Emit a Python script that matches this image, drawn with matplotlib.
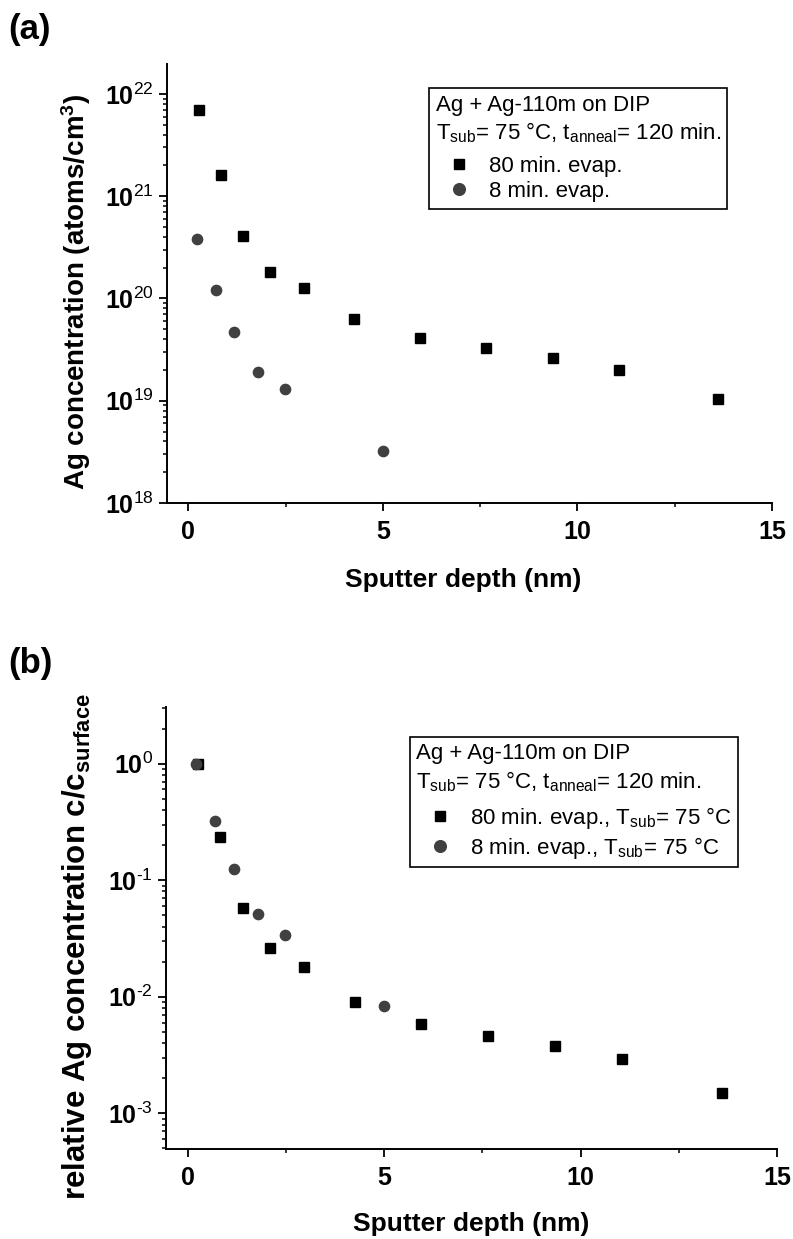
import numpy as np
import matplotlib
matplotlib.use("Agg")
import matplotlib.pyplot as plt
from matplotlib.ticker import MultipleLocator, LogLocator, NullFormatter, FuncFormatter
from matplotlib.lines import Line2D

plt.rcParams['font.family'] = ['Liberation Sans', 'DejaVu Sans']
plt.rcParams['mathtext.fontset'] = 'custom'
plt.rcParams['mathtext.rm'] = 'Liberation Sans'
plt.rcParams['mathtext.it'] = 'Liberation Sans:italic'
plt.rcParams['mathtext.bf'] = 'Liberation Sans:bold'
plt.rcParams['axes.unicode_minus'] = False

# depth of the data points (nm)
depth_80 = [0.27, 0.83, 1.41, 2.10, 2.96, 4.25, 5.94, 7.65, 9.36, 11.06, 13.6]
depth_8 = [0.22, 0.70, 1.18, 1.78, 2.48, 5.0]

# (a) absolute concentration, atoms/cm^3
conc_80 = [6.9e21, 1.62e21, 4.04e20, 1.8e20, 1.26e20, 6.3e19, 4.1e19, 3.25e19, 2.63e19, 2.0e19, 1.04e19]
conc_8 = [3.78e20, 1.2e20, 4.74e19, 1.93e19, 1.30e19, 3.24e18]

# (b) relative concentration c/c_surface
rel_80 = [1.0, 0.235, 0.058, 0.026, 0.018, 0.0091, 0.0058, 0.0046, 0.0038, 0.0029, 0.0015]
rel_8 = [1.0, 0.32, 0.125, 0.051, 0.034, 0.0084]

sq_color = "black"
circ_color = "#404040"
title_txt = "Ag + Ag-110m on DIP\nT$_\\mathregular{sub}$= 75 °C, t$_\\mathregular{anneal}$= 120 min."


def pow_label(v, pos):
    # hyphen instead of the math minus, like the original
    n = int(round(np.log10(v)))
    return "$\\mathdefault{10^{\\text{%d}}}$" % n


def style_axes(ax):
    for side in ["top", "right"]:
        ax.spines[side].set_visible(False)
    for side in ["left", "bottom"]:
        ax.spines[side].set_linewidth(1.4)
    ax.set_yscale("log")
    ax.set_xlim(-0.55, 15)
    ax.xaxis.set_major_locator(MultipleLocator(5))
    ax.xaxis.set_minor_locator(MultipleLocator(2.5))
    ax.yaxis.set_major_locator(LogLocator(base=10, numticks=20))
    ax.yaxis.set_minor_locator(LogLocator(base=10, subs=np.arange(2, 10), numticks=20))
    ax.yaxis.set_major_formatter(FuncFormatter(pow_label))
    ax.yaxis.set_minor_formatter(NullFormatter())
    ax.tick_params(which="major", direction="out", length=5.5, width=1.3, labelsize=18)
    ax.tick_params(axis="x", which="major", pad=6.5)
    ax.tick_params(axis="y", which="major", pad=4)
    ax.tick_params(which="minor", direction="out", length=3, width=1.1)


def make_legend(ax, labels, anchor):
    h = [Line2D([], [], ls="none", marker="s", ms=7.6, color=sq_color),
         Line2D([], [], ls="none", marker="o", ms=8.4, color=circ_color)]
    leg = ax.legend(h, labels, title=title_txt, loc="upper left", bbox_to_anchor=anchor,
                    fontsize=16, title_fontsize=16, alignment="left", frameon=True,
                    fancybox=False, edgecolor="black", framealpha=1, borderpad=0.3,
                    handlelength=2.1, handletextpad=0.3, labelspacing=0.17, borderaxespad=0)
    leg.get_frame().set_linewidth(1.2)
    leg.get_title().set_linespacing(1.25)
    leg._legend_box.sep = 8
    return leg


fig = plt.figure(figsize=(7.93, 12.39), dpi=100)

# ---- panel (a)
ax1 = fig.add_axes([167 / 793, 1 - 503 / 1239, 605 / 793, 439 / 1239])
ax1.plot(depth_80, conc_80, ls="none", marker="s", ms=6.6, color=sq_color, mec=sq_color)
ax1.plot(depth_8, conc_8, ls="none", marker="o", ms=7.4, color=circ_color, mec=circ_color)
ax1.set_ylim(1e18, 1.96e22)
style_axes(ax1)
for lab in ax1.get_xticklabels() + ax1.get_yticklabels():
    lab.set_fontweight("bold")
ax1.set_xlabel("Sputter depth (nm)", fontsize=19, fontweight="bold")
ax1.xaxis.set_label_coords(0.49, -0.149)
ax1.set_ylabel("Ag concentration (atoms/cm$^\\mathregular{3}$)", fontsize=20, fontweight="bold")
ax1.yaxis.set_label_coords(-0.122, 0.48)
make_legend(ax1, ["80 min. evap.", "8 min. evap."], (0.433, 0.945))

# ---- panel (b)
ax2 = fig.add_axes([166 / 793, 1 - 1149 / 1239, 611 / 793, 442 / 1239])
ax2.plot(depth_80, rel_80, ls="none", marker="s", ms=6.6, color=sq_color, mec=sq_color)
ax2.plot(depth_8, rel_8, ls="none", marker="o", ms=7.4, color=circ_color, mec=circ_color)
ax2.set_ylim(4.94e-4, 3.06)
style_axes(ax2)
for lab in ax2.get_xticklabels() + ax2.get_yticklabels():
    lab.set_fontweight("bold")
ax2.set_xlabel("Sputter depth (nm)", fontsize=19, fontweight="bold")
ax2.xaxis.set_label_coords(0.5, -0.142)
ax2.set_ylabel("relative Ag concentration c/c$_\\mathregular{surface}$", fontsize=22.5, fontweight="bold")
ax2.yaxis.set_label_coords(-0.118, 0.457)
make_legend(ax2, ["80 min. evap., T$_\\mathregular{sub}$= 75 °C", "8 min. evap., T$_\\mathregular{sub}$= 75 °C"],
            (0.399, 0.933))

fig.text(8 / 793, 1 - 30 / 1239, "(a)", fontsize=25, fontweight="bold", ha="left", va="center")
fig.text(8 / 793, 1 - 663 / 1239, "(b)", fontsize=25, fontweight="bold", ha="left", va="center")

fig.savefig("out.png", dpi=100)
